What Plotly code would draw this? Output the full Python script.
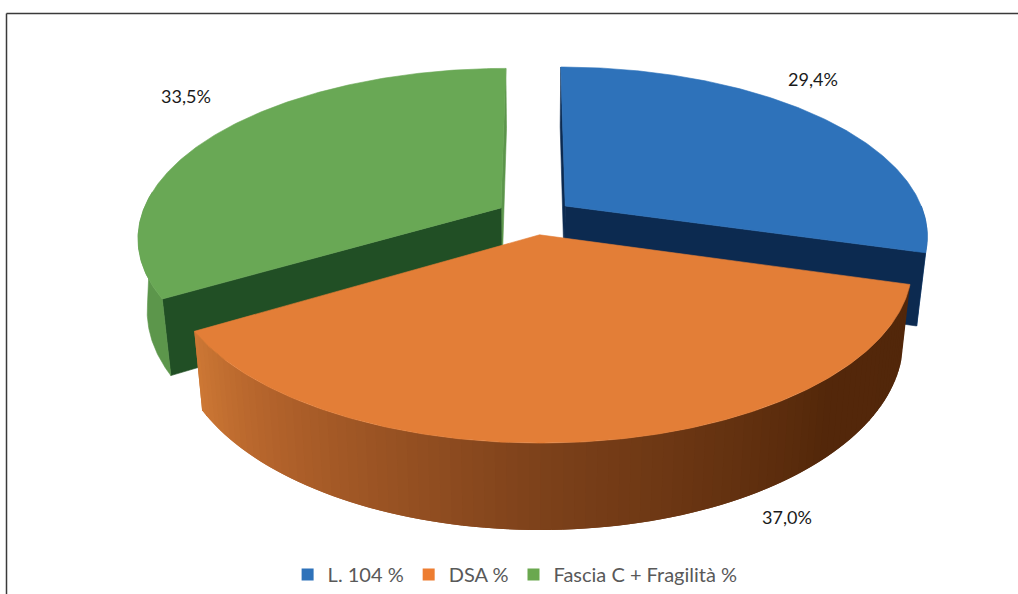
import numpy as np
import plotly.graph_objects as go

categories = ["L. 104 %", "DSA %", "Fascia C + Fragilità %"]
shares = [29.4, 37.0, 33.5]
top_colors = ["#2E72BA", "#E37E37", "#69A855"]
wall_colors = ["#0C2A50", "#52270A", "#214F25"]
side_colors = ["#255E9B", None, "#5C964B"]
sliver_colors = ["#0C2A50", None, "#5C964B"]
legend_colors = ["#2E72BA", "#ED7D31", "#6AA84F"]
label_xy = [(813, 79), (787, 517), (186, 96)]

W, H = 1018, 594
CX, CY = 534.5, 216.7
RX, RY = 360.0, 166.0
PERSP = 0.17
EXPLODE = 0.108
THICK = 70.6
TAPER = 0.977


def project(xd, yd, bottom=False):
    d = 1 - PERSP * yd
    scale = TAPER if bottom else 1.0
    x = CX + scale * RX * xd / d
    y = CY + RY * yd / d + (THICK / d if bottom else 0)
    return x, y


fracs = np.array(shares) / sum(shares)
edges = np.concatenate([[0], np.cumsum(fracs)]) * 2 * np.pi


def rim(i, t0, t1, n, bottom=False):
    mid = (edges[i] + edges[i + 1]) / 2
    ex, ey = EXPLODE * np.sin(mid), -EXPLODE * np.cos(mid)
    ts = np.linspace(t0, t1, n)
    return project(np.sin(ts) + ex, -np.cos(ts) + ey, bottom)


def apex(i, bottom=False):
    mid = (edges[i] + edges[i + 1]) / 2
    return project(EXPLODE * np.sin(mid), -EXPLODE * np.cos(mid), bottom)


def poly(fig, xs, ys, color, lw=0.6):
    fig.add_trace(go.Scatter(
        x=list(xs), y=list(ys), mode="lines", fill="toself", fillcolor=color,
        line=dict(color=color, width=lw), hoverinfo="skip", showlegend=False))


def wall(fig, i, t, color):
    ax, ay = apex(i)
    bx, by = apex(i, True)
    rx, ry = rim(i, t, t, 1)
    qx, qy = rim(i, t, t, 1, True)
    poly(fig, [ax, rx[0], qx[0], bx, ax], [ay, ry[0], qy[0], by, ay], color)


def side(fig, i, t0, t1, color, t1_bottom=None):
    """Outer rim band; the bottom rim may stop earlier so the silhouette is a straight tangent."""
    t1_bottom = t1 if t1_bottom is None else t1_bottom
    x0, y0 = rim(i, t0, t1, 60)
    x1, y1 = rim(i, t0, t1_bottom, 60, True)
    poly(fig, np.r_[x0, x1[::-1], x0[0]], np.r_[y0, y1[::-1], y0[0]], color)


def top(fig, i):
    ax, ay = apex(i)
    x, y = rim(i, edges[i], edges[i + 1], 200)
    poly(fig, np.r_[ax, x, ax], np.r_[ay, y, ay], top_colors[i])


def lerp(c0, c1, f):
    return "rgb(%d,%d,%d)" % tuple(a + (b - a) * f for a, b in zip(c0, c1))


fig = go.Figure()

# Blue wedge
wall(fig, 0, edges[0], sliver_colors[0])
side(fig, 0, np.pi / 2, edges[1], side_colors[0])
wall(fig, 0, edges[1], wall_colors[0])
top(fig, 0)

# Green wedge
wall(fig, 2, edges[3], sliver_colors[2])
wall(fig, 2, edges[2], wall_colors[2])
side(fig, 2, edges[2], 1.5 * np.pi + 0.1, side_colors[2], t1_bottom=1.5 * np.pi - 0.14)
top(fig, 2)

# Orange wedge: gradient side, each strip overlapping the next to hide seams
stops = [(0.0, (82, 39, 10)), (0.22, (84, 40, 10)), (0.55, (126, 66, 27)), (0.85, (180, 100, 44)), (1.0, (208, 122, 54))]
N = 90
ts = np.linspace(edges[1], edges[2], N + 1)
for k in range(N - 1, -1, -1):
    f = (k + 0.5) / N
    for (f0, c0), (f1, c1) in zip(stops, stops[1:]):
        if f0 <= f <= f1:
            col = lerp(c0, c1, (f - f0) / (f1 - f0))
            break
    x0, y0 = rim(1, ts[k], ts[min(k + 2, N)], 3)
    x1, y1 = rim(1, ts[k], ts[min(k + 2, N)], 3, True)
    poly(fig, np.r_[x0, x1[::-1], x0[0]], np.r_[y0, y1[::-1], y0[0]], col, lw=0)
top(fig, 1)

# Legend entries
for name, color in zip(categories, legend_colors):
    fig.add_trace(go.Scatter(
        x=[None], y=[None], mode="markers", name=name,
        marker=dict(symbol="square", size=14, color=color)))

annotations = [
    dict(x=x, y=y, xref="x", yref="y", showarrow=False,
         text=f"{v:.1f}%".replace(".", ","),
         font=dict(family="Lato", size=18, color="#1a1a1a"))
    for v, (x, y) in zip(shares, label_xy)
]

fig.update_layout(
    width=W, height=H, margin=dict(l=0, r=0, t=0, b=0),
    paper_bgcolor="white", plot_bgcolor="white",
    xaxis=dict(range=[0, W], visible=False, fixedrange=True),
    yaxis=dict(range=[H, 0], visible=False, fixedrange=True),
    annotations=annotations,
    shapes=[
        dict(type="line", xref="x", yref="y", x0=6.5, x1=W, y0=13.5, y1=13.5,
             line=dict(color="#3a3a3a", width=1.5)),
        dict(type="line", xref="x", yref="y", x0=6.5, x1=6.5, y0=13.5, y1=H,
             line=dict(color="#3a3a3a", width=1.5)),
    ],
    legend=dict(orientation="h", x=0.506, xanchor="center", y=0.0, yanchor="bottom",
                font=dict(family="Lato", size=20, color="#595959"),
                itemsizing="constant", traceorder="normal", bgcolor="rgba(0,0,0,0)"),
)

fig.write_html("out.html", config=dict(displayModeBar=False),
               post_script="document.body.style.margin='0';document.documentElement.style.overflow='hidden';")
